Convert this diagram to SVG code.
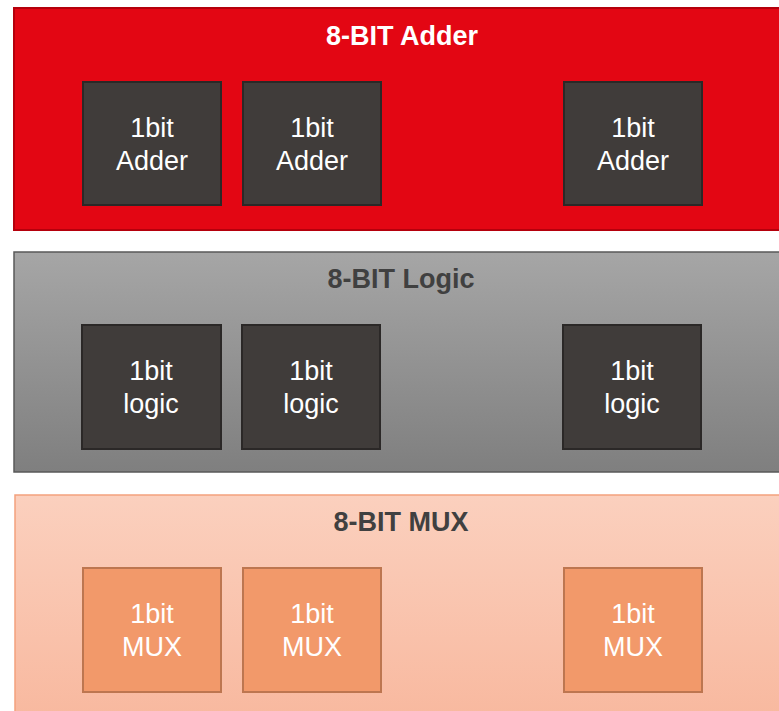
<svg xmlns="http://www.w3.org/2000/svg" width="779" height="711" viewBox="0 0 779 711">
  <style>
    .title { font-family: "Liberation Sans", Arial, sans-serif; font-weight: bold; font-size: 27px; text-anchor: middle; }
    .cell-text { font-family: "Liberation Sans", Arial, sans-serif; font-size: 27px; fill: #ffffff; text-anchor: middle; }
    .dark-cell { fill: #403c3a; stroke: #2b2827; stroke-width: 2; }
    .mux-cell { fill: #f2996a; stroke: #bd7650; stroke-width: 2; }
  </style>
  <defs>
    <linearGradient id="grayFill" x1="0" y1="0" x2="0" y2="1">
      <stop offset="0" stop-color="#a6a6a6"/>
      <stop offset="1" stop-color="#7f7f7f"/>
    </linearGradient>
    <linearGradient id="peachFill" x1="0" y1="0" x2="0" y2="1">
      <stop offset="0" stop-color="#fbd0be"/>
      <stop offset="1" stop-color="#f8b89e"/>
    </linearGradient>
  </defs>

  <rect width="779" height="711" fill="#ffffff"/>

  <!-- 8-bit adder block -->
  <g id="adder8">
    <rect x="14" y="8" width="780" height="222" fill="#e30613" stroke="#b5000c" stroke-width="2"/>
    <text class="title" x="402" y="45" fill="#ffffff">8-BIT Adder</text>
  </g>
  <g id="adder1a">
    <rect class="dark-cell" x="83" y="82" width="138" height="123"/>
    <text class="cell-text" x="152" y="137">1bit</text>
    <text class="cell-text" x="152" y="170">Adder</text>
  </g>
  <g id="adder1b">
    <rect class="dark-cell" x="243" y="82" width="138" height="123"/>
    <text class="cell-text" x="312" y="137">1bit</text>
    <text class="cell-text" x="312" y="170">Adder</text>
  </g>
  <g id="adder1h">
    <rect class="dark-cell" x="564" y="82" width="138" height="123"/>
    <text class="cell-text" x="633" y="137">1bit</text>
    <text class="cell-text" x="633" y="170">Adder</text>
  </g>

  <!-- 8-bit logic block -->
  <g id="logic8">
    <rect x="14" y="252" width="780" height="220" fill="url(#grayFill)" stroke="#595959" stroke-width="1.5"/>
    <text class="title" x="401" y="288" fill="#404040">8-BIT Logic</text>
  </g>
  <g id="logic1a">
    <rect class="dark-cell" x="82" y="325" width="139" height="124"/>
    <text class="cell-text" x="151" y="380">1bit</text>
    <text class="cell-text" x="151" y="413">logic</text>
  </g>
  <g id="logic1b">
    <rect class="dark-cell" x="242" y="325" width="138" height="124"/>
    <text class="cell-text" x="311" y="380">1bit</text>
    <text class="cell-text" x="311" y="413">logic</text>
  </g>
  <g id="logic1h">
    <rect class="dark-cell" x="563" y="325" width="138" height="124"/>
    <text class="cell-text" x="632" y="380">1bit</text>
    <text class="cell-text" x="632" y="413">logic</text>
  </g>

  <!-- 8-bit mux block -->
  <g id="mux8">
    <rect x="15" y="495" width="780" height="230" fill="url(#peachFill)" stroke="#f3a17d" stroke-width="1.5"/>
    <text class="title" x="401" y="531" fill="#404040">8-BIT MUX</text>
  </g>
  <g id="mux1a">
    <rect class="mux-cell" x="83" y="568" width="138" height="124"/>
    <text class="cell-text" x="152" y="623">1bit</text>
    <text class="cell-text" x="152" y="656">MUX</text>
  </g>
  <g id="mux1b">
    <rect class="mux-cell" x="243" y="568" width="138" height="124"/>
    <text class="cell-text" x="312" y="623">1bit</text>
    <text class="cell-text" x="312" y="656">MUX</text>
  </g>
  <g id="mux1h">
    <rect class="mux-cell" x="564" y="568" width="138" height="124"/>
    <text class="cell-text" x="633" y="623">1bit</text>
    <text class="cell-text" x="633" y="656">MUX</text>
  </g>

  <g id="connectors"/>
</svg>
